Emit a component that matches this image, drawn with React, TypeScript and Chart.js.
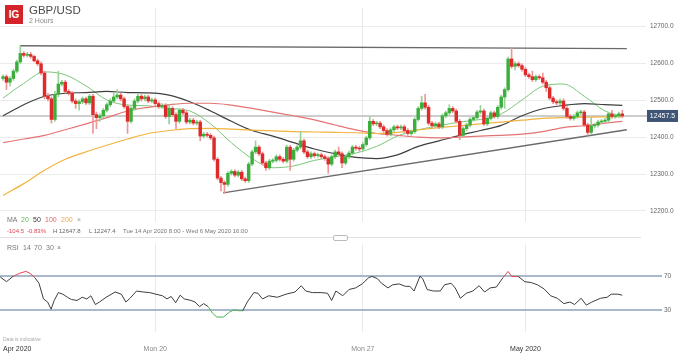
import { useEffect, useRef } from "react";
import { Chart, registerables } from "chart.js";

Chart.register(...registerables);

const FONT = "'Liberation Sans', Arial, sans-serif";

// ---- candle data (2-hour candles, price x10000) ----
const opens = [12559,12564,12549,12559,12579,12604,12627,12622,12624,12619,
12607,12599,12574,12511,12504,12448,12516,12544,12549,12524,
12519,12498,12491,12496,12504,12493,12511,12461,12453,12458,
12473,12488,12498,12509,12514,12504,12483,12443,12478,12498,
12511,12504,12509,12498,12501,12491,12483,12486,12456,12478,
12461,12443,12473,12466,12441,12446,12438,12441,12403,12408,
12405,12398,12340,12289,12277,12272,12302,12307,12297,12305,
12287,12282,12327,12360,12373,12355,12330,12317,12335,12337,
12347,12340,12335,12373,12340,12365,12373,12390,12360,12347,
12355,12350,12352,12347,12342,12327,12347,12360,12355,12330,
12347,12357,12373,12370,12368,12380,12398,12443,12436,12438,
12428,12418,12408,12420,12428,12425,12428,12418,12410,12415,
12448,12478,12493,12481,12438,12431,12436,12428,12458,12466,
12478,12471,12443,12405,12423,12433,12448,12453,12468,12471,
12436,12451,12466,12456,12481,12509,12529,12612,12592,12599,
12594,12584,12569,12564,12556,12564,12561,12549,12534,12506,
12496,12493,12498,12478,12456,12451,12456,12466,12468,12433,
12413,12431,12433,12441,12443,12446,12463,12456,12458,12463];

const highs = [12569,12569,12564,12584,12609,12647.8,12632,12630,12630,12622,
12612,12604,12579,12519,12509,12524,12579,12554,12554,12529,
12524,12504,12501,12509,12509,12516,12516,12468,12463,12478,
12493,12504,12519,12529,12519,12509,12488,12483,12504,12519,
12516,12514,12514,12506,12506,12496,12491,12491,12488,12483,
12466,12478,12478,12471,12451,12451,12446,12446,12413,12413,
12410,12403,12345,12294,12282,12307,12312,12312,12310,12310,
12292,12332,12365,12390,12378,12360,12335,12340,12342,12352,
12352,12345,12378,12378,12370,12378,12415,12395,12365,12360,
12360,12357,12357,12352,12347,12352,12365,12373,12360,12352,
12362,12378,12378,12375,12385,12403,12456,12448,12443,12443,
12433,12423,12425,12433,12433,12433,12433,12423,12420,12453,
12483,12511,12516,12486,12443,12441,12441,12463,12471,12488,
12483,12476,12448,12428,12438,12453,12458,12473,12486,12476,
12456,12471,12471,12486,12514,12534,12617,12642,12604,12604,
12599,12589,12574,12579,12569,12569,12574,12554,12539,12511,
12501,12504,12504,12483,12461,12461,12471,12473,12473,12438,
12453,12438,12446,12448,12451,12468,12473,12463,12468,12473];

const lows = [12554,12529,12539,12554,12574,12599,12617,12617,12614,12604,
12594,12569,12504,12498,12438,12443,12509,12539,12519,12514,
12493,12478,12473,12491,12488,12488,12410,12423,12443,12453,
12468,12483,12493,12504,12498,12478,12410,12438,12473,12493,
12498,12498,12493,12493,12486,12478,12478,12451,12436,12456,
12423,12438,12461,12436,12436,12433,12433,12390,12398,12400,
12393,12335,12284,12254,12247.4,12267,12297,12292,12292,12282,
12277,12277,12322,12355,12350,12325,12310,12312,12330,12332,
12335,12330,12330,12310,12335,12360,12368,12355,12342,12342,
12345,12345,12342,12337,12302,12322,12342,12350,12317,12325,
12342,12352,12365,12362,12362,12375,12393,12431,12431,12423,
12413,12403,12403,12415,12420,12420,12413,12405,12405,12410,
12443,12473,12476,12433,12425,12425,12423,12423,12453,12461,
12466,12438,12393,12400,12418,12428,12443,12448,12463,12431,
12431,12446,12451,12451,12476,12478,12524,12587,12582,12589,
12579,12564,12559,12551,12551,12556,12544,12524,12501,12491,
12488,12488,12473,12451,12446,12446,12451,12461,12428,12405,
12408,12425,12428,12436,12441,12441,12451,12451,12453,12453];

const closes = [12564,12549,12559,12579,12604,12627,12622,12624,12619,12607,
12599,12574,12511,12504,12448,12516,12544,12549,12524,12519,
12498,12491,12496,12504,12493,12511,12461,12453,12458,12473,
12488,12498,12509,12514,12504,12483,12443,12478,12498,12511,
12504,12509,12498,12501,12491,12483,12486,12456,12478,12461,
12443,12473,12466,12441,12446,12438,12441,12403,12408,12405,
12398,12340,12289,12277,12272,12302,12307,12297,12305,12287,
12282,12327,12360,12373,12355,12330,12317,12335,12337,12347,
12340,12335,12373,12340,12365,12373,12390,12360,12347,12355,
12350,12352,12347,12342,12327,12347,12360,12355,12330,12347,
12357,12373,12370,12368,12380,12398,12443,12436,12438,12428,
12418,12408,12420,12428,12425,12428,12418,12410,12415,12448,
12478,12493,12481,12438,12431,12436,12428,12458,12466,12478,
12471,12443,12405,12423,12433,12448,12453,12468,12471,12436,
12451,12466,12456,12481,12509,12529,12612,12592,12599,12594,
12584,12569,12564,12556,12564,12561,12549,12534,12506,12496,
12493,12498,12478,12456,12451,12456,12466,12468,12433,12413,
12431,12433,12441,12443,12446,12463,12456,12458,12463,12457.5];

// ---- moving averages (sampled at candle indices) ----
const maIdx = [0,6,12,18,24,30,36,42,48,54,60,66,72,78,84,90,96,102,108,114,120,126,132,138,144,150,156,162,168,174,179];
const ma20 = [12506,12546,12577,12569,12539,12501,12487,12485,12478,12471,12436,12385,12342,12317,12322,12337,12347,12357,12375,12403,12420,12431,12441,12448,12463,12501,12538,12544,12511,12471,12456];
const ma50 = [12458,12488,12511,12519,12521,12524,12521,12520,12514,12496,12471,12443,12418,12403,12385,12368,12355,12345,12342,12352,12375,12390,12405,12418,12432,12458,12477,12486,12491,12488,12486];
const ma100 = [12385,12395,12405,12420,12436,12453,12471,12481,12488,12492,12492,12487,12478,12468,12458,12447,12433,12420,12410,12405,12400,12398,12400,12403,12405,12408,12415,12426,12431,12438,12443];
const ma200 = [12242,12274,12310,12340,12360,12378,12395,12410,12418,12423,12424,12422,12419,12417,12415,12414,12413,12412,12410,12413,12420,12426,12431,12436,12441,12446,12451,12453,12454,12455,12455];

// ---- trend lines ----
const topLineIdx = [4.9, 180.3];
const topLineVal = [12647.8, 12640];
const lowLineIdx = [63.6, 180.3];
const lowLineVal = [12249, 12420];

// ---- RSI(14) ----
const rsiIdx = [-0.8,1.0,2.9,4.8,6.6,7.8,9.2,10.4,11.7,12.9,
13.9,14.8,16.0,17.3,18.6,19.8,21.4,22.9,24.2,25.4,
26.7,27.9,29.8,32.4,34.2,35.5,36.7,38.6,40.5,42.4,
44.2,46.1,47.4,48.6,49.9,51.2,52.4,54.3,55.5,56.8,
58.0,59.3,60.5,61.8,63.7,65.5,66.8,68.1,69.3,70.6,
72.5,73.7,75.0,76.8,79.3,81.8,84.4,86.2,87.5,89.4,
91.9,93.8,95.0,96.2,98.2,100.0,101.9,103.8,105.7,106.6,
108.2,109.4,111.3,112.6,114.5,116.3,117.6,118.8,120.5,121.3,
122.6,124.4,126.4,127.6,129.5,130.7,132.2,133.9,135.8,137.6,
139.2,140.8,142.6,144.5,146.0,147.0,148.9,150.8,152.7,154.5,
156.4,158.3,160.2,162.1,163.9,165.2,167.1,168.6,170.2,172.7,
174.6,175.8,177.7,179.0];
const rsiVal = [69.3,63.7,70,73.8,76,73.8,68.5,61.8,43,39.3,
30.7,41.2,50.6,48.7,45,42.3,41.2,45,43,46.8,
36.3,39.3,45,51.3,48.7,39.3,43.8,52.5,51.3,50.6,
48.7,46.8,43,46,38.5,47.5,43,41.2,39.3,33.7,
37.4,33.7,26.2,21.3,21.3,27.3,30,28.9,28.9,39.3,
50.6,49.8,43,46.8,45,48.7,51.3,58.8,52.5,50.6,
50.6,49.8,41.2,52.5,46.8,54.3,56.2,61,68.5,70,
67.4,61.8,56.2,59.9,61,58.1,58.1,52.5,70,67.4,
54.3,52.5,52.5,59.9,61.8,56.2,43.8,49.8,52.5,58.8,
51.3,56.2,57.3,68.5,76,70,70,63.7,62.6,59.9,
55,46.8,43.8,37.4,39.3,36.3,43.8,35.6,39.3,43.8,
45,48.7,48.7,47.5];
const rsiLevels = [30, 70];

// ---- axes ----
const xTickIdx = [0, 44, 104, 151];
const xTickLabels = ["Apr 2020", "Mon 20", "Mon 27", "May 2020"];
const priceTicks = [12200, 12300, 12400, 12500, 12600, 12700];
const lastPrice = 12457.5;
const xMin = -0.87;
const xMax = 184.4;

const GREEN = "#3cae3c";
const RED = "#de2a2a";
const GREEN_WICK = "#97d397";
const RED_WICK = "#f09595";

export default function App() {
  const mainRef = useRef<HTMLCanvasElement>(null);
  const rsiRef = useRef<HTMLCanvasElement>(null);

  useEffect(() => {
    document.body.style.margin = "0";
    Chart.defaults.font.family = FONT;
    const idx = closes.map((_, i) => i);
    const isUp = (i: number) => closes[i] >= opens[i];

    const pricePlugin = {
      id: "priceTag",
      beforeDatasetsDraw(chart: any) {
        const { ctx, chartArea, scales } = chart;
        const y = scales.y.getPixelForValue(lastPrice);
        ctx.save();
        ctx.strokeStyle = "#cdcdcd";
        ctx.lineWidth = 2;
        ctx.beginPath();
        ctx.moveTo(chartArea.left, y);
        ctx.lineTo(chartArea.right + 6, y);
        ctx.stroke();
        ctx.restore();
      },
      afterDraw(chart: any) {
        const { ctx, chartArea, scales } = chart;
        const y = scales.y.getPixelForValue(lastPrice);
        const left = chartArea.right + 6;
        const w = chart.width - left - 2;
        ctx.save();
        ctx.fillStyle = "#3d5475";
        ctx.fillRect(left, y - 6, w, 12);
        ctx.fillStyle = "#ffffff";
        ctx.font = `7px ${FONT}`;
        ctx.textAlign = "center";
        ctx.textBaseline = "middle";
        ctx.fillText(lastPrice.toFixed(1), left + w / 2, y + 0.5);
        ctx.restore();
      },
    };

    const maLine = (label: string, vals: number[], color: string, width: number) => ({
      type: "line" as const,
      label,
      data: maIdx.map((x, k) => ({ x, y: vals[k] })),
      borderColor: color,
      borderWidth: width,
      pointRadius: 0,
      tension: 0.4,
      cubicInterpolationMode: "monotone" as const,
      order: 8,
    });

    const main = new Chart(mainRef.current!, {
      type: "bar",
      data: {
        datasets: [
          maLine("MA 200", ma200, "#f2b440", 1.2),
          maLine("MA 100", ma100, "#e57373", 1.2),
          maLine("MA 50", ma50, "#3f3f3f", 1.2),
          maLine("MA 20", ma20, "#79c779", 1),
          {
            type: "line",
            label: "resistance",
            data: topLineIdx.map((x, k) => ({ x, y: topLineVal[k] })),
            borderColor: "#6a6a6a",
            borderWidth: 1.4,
            pointRadius: 0,
            order: 7,
          },
          {
            type: "line",
            label: "support",
            data: lowLineIdx.map((x, k) => ({ x, y: lowLineVal[k] })),
            borderColor: "#6a6a6a",
            borderWidth: 1.4,
            pointRadius: 0,
            order: 7,
          },
          {
            type: "bar",
            label: "wick",
            data: idx.map((i) => ({ x: i, y: [lows[i], highs[i]] })) as any,
            backgroundColor: idx.map((i) => (isUp(i) ? GREEN_WICK : RED_WICK)),
            grouped: false,
            categoryPercentage: 1,
            barPercentage: 1,
            maxBarThickness: 1,
            borderWidth: 0,
            order: 3,
          },
          {
            type: "bar",
            label: "body",
            data: idx.map((i) => ({ x: i, y: [opens[i], closes[i]] })) as any,
            backgroundColor: idx.map((i) => (isUp(i) ? GREEN : RED)),
            grouped: false,
            categoryPercentage: 1,
            barPercentage: 1,
            maxBarThickness: 2.8,
            minBarLength: 1,
            borderWidth: 0,
            order: 2,
          },
        ] as any,
      },
      options: {
        animation: false,
        responsive: false,
        events: [],
        layout: { padding: 0 },
        plugins: { legend: { display: false }, tooltip: { enabled: false } },
        scales: {
          x: {
            type: "linear",
            min: xMin,
            max: xMax,
            offset: false,
            grid: { offset: false, color: "#e9e9e9", drawTicks: false },
            border: { display: false },
            ticks: { display: false },
            afterBuildTicks: (s: any) => {
              s.ticks = xTickIdx.slice(1).map((v) => ({ value: v }));
            },
            afterFit: (s: any) => {
              s.height = 0;
              s.paddingLeft = 0;
              s.paddingRight = 0;
            },
          },
          y: {
            type: "linear",
            position: "right",
            min: 12169.7,
            max: 12750.5,
            beginAtZero: false,
            grid: { color: "#ebebeb", drawTicks: true, tickLength: 5 },
            border: { display: false },
            ticks: {
              color: "#666",
              padding: 4,
              font: { size: 6.5, family: FONT },
              callback: (v: any) => Number(v).toFixed(1),
            },
            afterBuildTicks: (s: any) => {
              s.ticks = priceTicks.map((v) => ({ value: v }));
            },
            afterFit: (s: any) => {
              s.width = 39;
            },
          },
        } as any,
      },
      plugins: [pricePlugin],
    });

    const rsi = new Chart(rsiRef.current!, {
      type: "line",
      data: {
        datasets: [
          {
            label: "RSI 14",
            data: rsiIdx.map((x, k) => ({ x, y: rsiVal[k] })),
            borderColor: "#3d3d3d",
            borderWidth: 1,
            pointRadius: 0,
            tension: 0,
            segment: {
              borderColor: (c: any) => {
                const avg = (c.p0.parsed.y + c.p1.parsed.y) / 2;
                if (avg >= 70) return "#e0464e";
                if (avg <= 30) return "#4caf50";
                return "#3d3d3d";
              },
            },
          },
        ],
      },
      options: {
        animation: false,
        responsive: false,
        events: [],
        layout: { padding: 0 },
        plugins: { legend: { display: false }, tooltip: { enabled: false } },
        scales: {
          x: {
            type: "linear",
            min: xMin,
            max: xMax,
            offset: false,
            grid: {
              offset: false,
              drawTicks: false,
              color: (c: any) =>
                c.index === 0 || c.index === xTickIdx.length ? "rgba(0,0,0,0)" : "#e9e9e9",
            },
            border: { display: false },
            ticks: {
              autoSkip: false,
              maxRotation: 0,
              align: "inner",
              padding: 13,
              font: { size: 7, family: FONT },
              color: (c: any) => (c.index === 0 || c.index === 3 ? "#333" : "#8a8a8a"),
              callback: (_v: any, i: number) => xTickLabels[i] ?? "",
            },
            afterBuildTicks: (s: any) => {
              s.ticks = [...xTickIdx.map((v) => ({ value: v })), { value: xMax }];
            },
            afterFit: (s: any) => {
              s.height = 22;
              s.paddingLeft = 0;
              s.paddingRight = 0;
            },
          },
          y: {
            type: "linear",
            position: "right",
            min: 3.35,
            max: 109,
            grid: { color: "#a9b9cb", lineWidth: 2, drawTicks: true, tickLength: 21 },
            border: { display: false },
            ticks: { color: "#666", padding: 2, font: { size: 6.5, family: FONT } },
            afterBuildTicks: (s: any) => {
              s.ticks = rsiLevels.map((v) => ({ value: v }));
            },
            afterFit: (s: any) => {
              s.width = 39;
            },
          },
        } as any,
      },
    });

    return () => {
      main.destroy();
      rsi.destroy();
    };
  }, []);

  const hi = Math.max(...highs).toFixed(1);
  const lo = Math.min(...lows).toFixed(1);

  const abs = (left: number, top: number, extra: any = {}) => ({
    position: "absolute" as const,
    left,
    top,
    whiteSpace: "nowrap" as const,
    ...extra,
  });

  return (
    <div
      style={{
        position: "relative",
        width: 680,
        height: 354,
        background: "#fff",
        overflow: "hidden",
        fontFamily: FONT,
      }}
    >
      <canvas ref={mainRef} width={680} height={230} style={abs(0, 0, { width: 680, height: 230 })} />
      <canvas ref={rsiRef} width={680} height={116} style={abs(0, 238, { width: 680, height: 116 })} />

      {/* header */}
      <div
        style={abs(5, 5, {
          width: 18,
          height: 19,
          background: "#d5232b",
          color: "#fff",
          fontWeight: "bold",
          fontSize: 10,
          lineHeight: "19px",
          textAlign: "center",
        })}
      >
        IG
      </div>
      <div style={abs(29, 4, { fontSize: 11.5, lineHeight: "12px", color: "#4a4a4a" })}>GBP/USD</div>
      <div style={abs(29, 17, { fontSize: 7, lineHeight: "8px", color: "#8a8a8a" })}>2 Hours</div>

      {/* MA legend */}
      <div style={{ fontSize: 7, lineHeight: "8px" }}>
        <span style={abs(7, 216, { color: "#777" })}>MA</span>
        <span style={abs(21, 216, { color: "#5cb85c" })}>20</span>
        <span style={abs(33, 216, { color: "#333" })}>50</span>
        <span style={abs(45, 216, { color: "#e06666" })}>100</span>
        <span style={abs(61, 216, { color: "#f0ad4e" })}>200</span>
        <span style={abs(77, 216, { color: "#999" })}>×</span>
      </div>

      {/* stats row */}
      <div style={{ fontSize: 6, lineHeight: "7px" }}>
        <span style={abs(7, 228, { color: "#e0464e" })}>-104.5</span>
        <span style={abs(27, 228, { color: "#e0464e" })}>-0.83%</span>
        <span style={abs(53, 228, { color: "#666" })}>H {hi}</span>
        <span style={abs(89, 228, { color: "#666" })}>L {lo}</span>
        <span style={abs(123, 228, { color: "#777" })}>Tue 14 Apr 2020 8:00 - Wed 6 May 2020 16:00</span>
      </div>
      <div style={abs(0, 237, { width: 641, height: 1, background: "#e2e2e2" })} />
      <div
        style={abs(333, 235, {
          width: 13,
          height: 4,
          border: "1px solid #bbb",
          borderRadius: 2,
          background: "#fff",
        })}
      />

      {/* RSI legend */}
      <div style={{ fontSize: 7, lineHeight: "8px", color: "#777" }}>
        <span style={abs(7, 244)}>RSI</span>
        <span style={abs(23, 244)}>14</span>
        <span style={abs(34, 244)}>70</span>
        <span style={abs(46, 244)}>30</span>
        <span style={abs(57, 244)}>×</span>
      </div>

      <div style={abs(3, 336, { fontSize: 5, lineHeight: "6px", color: "#aaa" })}>Data is indicative</div>
    </div>
  );
}
